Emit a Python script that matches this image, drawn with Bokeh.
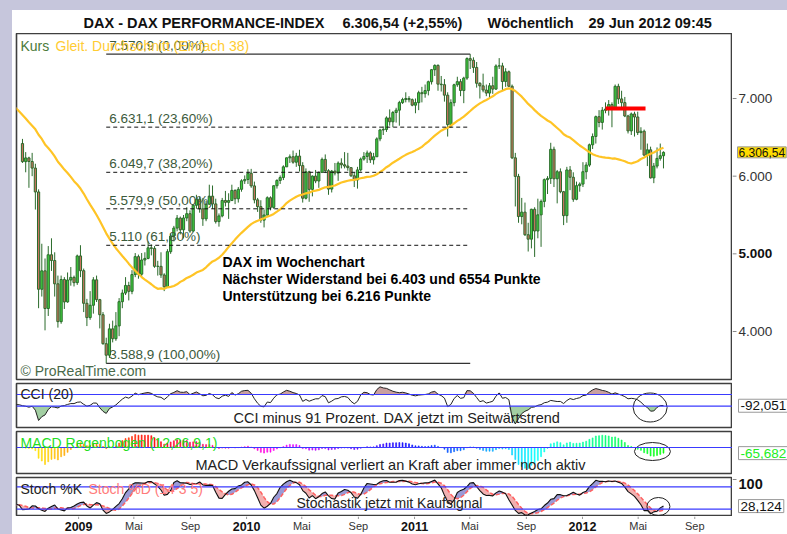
import math
import colorsys
import numpy as np
import pandas as pd
from bokeh.plotting import figure
from bokeh.models import Range1d, Label, Span, Spacer, ColumnDataSource
from bokeh.core.properties import value
from bokeh.layouts import column, row
from bokeh.embed import file_html
from bokeh.resources import INLINE

FONT = "Liberation Sans"

# ---------------- data (weekly DAX, weeks starting Monday) ----------------
start_week = "2007-11-19"
pre_close = [7560, 7870, 7990, 7850, 7930, 8020, 7810, 7600, 7200, 6820, 6980, 6730, 6830, 6810,
             6750, 6510, 6370, 6350, 6580, 6720, 6600, 6770, 6810, 6990, 6950, 7090, 7040, 7090,
             6850, 6820, 6620, 6410, 6260, 6280, 6420, 6360, 6480, 6550, 6580, 6360, 6420]
pre_high = [7700, 7900, 8010, 8030, 7960, 8040, 8070, 7800, 7600, 7200, 7050, 7000, 6900, 6900,
            6960, 6780, 6600, 6480, 6630, 6770, 6750, 6800, 6850, 7010, 7050, 7110, 7230, 7120,
            7120, 6910, 6880, 6650, 6420, 6400, 6450, 6550, 6500, 6600, 6660, 6560, 6460]
pre_low = [7470, 7540, 7800, 7800, 7700, 7920, 7780, 7520, 7100, 6380, 6700, 6650, 6700, 6700,
           6700, 6430, 6250, 6170, 6370, 6480, 6530, 6510, 6700, 6750, 6880, 6900, 6990, 6940,
           6800, 6650, 6600, 6380, 6150, 6130, 6130, 6340, 6320, 6380, 6480, 6290, 6250]

close_2008 = [6187, 6235, 6189, 6104, 5797, 4544, 4781, 4296, 4988, 4914, 4614, 4127, 4669, 4381,
              4663, 4697, 4629, 4973]
high_2008 = [6480, 6310, 6250, 6300, 6160, 5830, 5130, 4940, 5100, 5200, 5020, 4720, 4720, 4700,
             4760, 4830, 4720, 4990]
low_2008 = [6170, 6050, 5850, 6000, 5570, 4300, 4450, 4015, 4200, 4780, 4450, 4050, 4100, 4290,
            4370, 4590, 4580, 4600]

close_2009 = [4783, 4363, 4179, 4338, 4665, 4410, 4216, 3843, 3695, 4034, 3907, 4072, 4384, 4495,
              4593, 4517, 4733, 4964, 4738, 4921, 4941, 5077, 5070, 4839, 4839, 4728, 4576, 5028,
              5229, 5332, 5460, 5309, 5462, 5517, 5293, 5625, 5703, 5580, 5450, 5640, 5743, 5643,
              5415, 5488, 5687, 5663, 5686, 5817, 5709, 5831, 5940, 5957]
high_2009 = [5111, 4810, 4420, 4520, 4700, 4720, 4420, 4250, 3920, 4100, 4140, 4250, 4430, 4540,
             4700, 4640, 4790, 5010, 4990, 5010, 5020, 5160, 5120, 5100, 4910, 5020, 4750, 5060,
             5260, 5360, 5500, 5480, 5500, 5600, 5560, 5640, 5760, 5740, 5720, 5680, 5890, 5880,
             5710, 5520, 5720, 5810, 5780, 5890, 5830, 5860, 5960, 6010]
low_2009 = [4700, 4250, 4070, 4150, 4230, 4380, 4040, 3830, 3588.9, 3660, 3860, 3880, 3940, 4300,
            4470, 4400, 4480, 4700, 4680, 4700, 4850, 4930, 4980, 4820, 4720, 4690, 4520, 4560,
            5000, 5160, 5290, 5250, 5200, 5420, 5270, 5280, 5580, 5530, 5360, 5420, 5630, 5580,
            5390, 5350, 5470, 5610, 5450, 5680, 5640, 5660, 5800, 5900]

close_2010 = [6037, 5875, 5695, 5608, 5434, 5500, 5722, 5598, 5877, 5945, 5982, 6120, 6236, 6250,
              6180, 6259, 6136, 5716, 6056, 5830, 6001, 5938, 6049, 6216, 6070, 5834, 6065, 6040,
              6168, 6147, 6130, 6110, 6005, 5951, 6081, 6220, 6254, 6299, 6211, 6250, 6480, 6595,
              6601, 6750, 6700, 6820, 6850, 6947, 6987, 7000, 6985, 6914]
high_2010 = [6090, 6094, 5930, 5720, 5690, 5570, 5740, 5740, 5880, 5960, 6010, 6140, 6240, 6280,
             6330, 6300, 6340, 6180, 6100, 6070, 6010, 6080, 6060, 6240, 6280, 6090, 6080, 6170,
             6190, 6230, 6310, 6300, 6110, 6050, 6120, 6240, 6310, 6330, 6320, 6300, 6500, 6610,
             6640, 6770, 6860, 6840, 6880, 6970, 7010, 7080, 7030, 7000]
low_2010 = [5900, 5850, 5650, 5540, 5400, 5340, 5480, 5560, 5580, 5840, 5900, 5950, 6120, 6170,
            6160, 6120, 6060, 5660, 5700, 5670, 5740, 5910, 5850, 6040, 6040, 5760, 5790, 6010,
            5940, 6100, 6100, 6070, 5990, 5860, 5840, 6060, 6200, 6170, 6170, 6150, 6250, 6450,
            6530, 6570, 6650, 6630, 6690, 6650, 6930, 6950, 6950, 6900]

close_2011 = [6947, 7075, 7062, 7102, 7216, 7371, 7426, 7185, 7178, 7043, 6664, 6946, 7177, 7217,
              7103, 7263, 7514, 7492, 7400, 7196, 7163, 7109, 7070, 7164, 7121, 7419, 7420, 7219,
              7344, 7158, 6236, 5997, 5480, 5537, 5246, 5189, 5574, 5294, 5502, 5675, 5955, 5971,
              6346, 5966, 6057, 5800, 5492, 6080, 5986, 5702, 5878, 5898]
high_2011 = [7000, 7100, 7150, 7180, 7230, 7380, 7440, 7440, 7290, 7250, 7080, 6990, 7190, 7280,
             7250, 7280, 7530, 7570.9, 7530, 7470, 7210, 7320, 7180, 7200, 7280, 7440, 7520, 7460,
             7390, 7360, 7180, 6300, 6030, 5720, 5660, 5400, 5580, 5600, 5710, 5700, 5970, 6000,
             6430, 6380, 6080, 6100, 5810, 6120, 6130, 6050, 5930, 5920]
low_2011 = [6810, 6850, 6950, 7010, 7040, 7180, 7290, 7100, 7090, 6960, 6510, 6620, 6900, 7150,
            7030, 6940, 7240, 7380, 7330, 7140, 7000, 7080, 7030, 7000, 7060, 7110, 7380, 7100,
            7150, 7150, 6220, 5610, 5400, 5380, 5230, 5030, 5070, 4960, 5200, 5090, 5600, 5770,
            5900, 5860, 5650, 5780, 5370, 5400, 5820, 5670, 5690, 5800]

close_2012 = [6057, 6143, 6404, 6511, 6766, 6692, 6848, 6864, 6922, 6880, 7157, 6995, 6947, 6775,
              6583, 6801, 6762, 6561, 6579, 6271, 6339, 5978, 6130, 6229, 6263, 6306.54]
high_2012 = [6180, 6180, 6420, 6550, 6780, 6850, 6890, 6950, 6980, 6950, 7180, 7190, 7100, 7020,
             6790, 6820, 6830, 6830, 6630, 6600, 6420, 6380, 6170, 6370, 6420, 6320]
low_2012 = [5860, 5960, 6120, 6350, 6420, 6630, 6600, 6810, 6780, 6630, 6870, 6930, 6880, 6760,
            6550, 6530, 6510, 6530, 6340, 6260, 6130, 5970, 5910, 6100, 6200, 6100]

fib_ratios = [0.0, 0.236, 0.382, 0.5, 0.618, 1.0]
resistance_level = 6870
resistance_from, resistance_to = "2012-02-20", "2012-05-17"
price_ticks = [4000, 5000, 6000, 7000]
price_tick_labels = ["4.000", "5.000", "6.000", "7.000"]
price_last, cci_last, macd_last, stoch_last = 6306.54, -92.051, -65.682, 28.124
time_ticks = ["2009-01-01", "2009-05-01", "2009-09-01", "2010-01-01", "2010-05-01", "2010-09-01",
              "2011-01-01", "2011-05-01", "2011-09-01", "2012-01-01", "2012-05-01", "2012-09-01"]
time_labels = ["2009", "Mai", "Sep", "2010", "Mai", "Sep", "2011", "Mai", "Sep", "2012", "Mai", "Sep"]

# ---------------- series ----------------
closes = pre_close + close_2008 + close_2009 + close_2010 + close_2011 + close_2012
highs = pre_high + high_2008 + high_2009 + high_2010 + high_2011 + high_2012
lows = pre_low + low_2008 + low_2009 + low_2010 + low_2011 + low_2012
n_pre = len(pre_close)
dates = pd.date_range(start_week, periods=len(closes), freq="7D")
c = np.array(closes, float)
h = np.array(highs, float)
l = np.array(lows, float)
o = np.concatenate([[c[0]], c[:-1]])
h = np.maximum(h, np.maximum(o, c))
l = np.minimum(l, np.minimum(o, c))

cs = pd.Series(c)
ma38 = cs.rolling(38).mean().values
tp = pd.Series((h + l + c) / 3)
tp_ma = tp.rolling(20).mean()
tp_md = tp.rolling(20).apply(lambda x: np.mean(np.abs(x - x.mean())), raw=True)
cci = ((tp - tp_ma) / (0.015 * tp_md)).values
macd = cs.ewm(span=12, adjust=False).mean() - cs.ewm(span=26, adjust=False).mean()
hist = (macd - macd.ewm(span=9, adjust=False).mean()).values
ll = pd.Series(l).rolling(14).min()
hh = pd.Series(h).rolling(14).max()
fast_k = 100 * (cs - ll) / (hh - ll)
stoch_k = fast_k.rolling(3).mean()
stoch_d = stoch_k.rolling(5).mean().values
stoch_k = stoch_k.values

vis = slice(n_pre, None)
ext = slice(n_pre - 3, None)
WEEK = 7 * 24 * 3600 * 1000


def ms(d):
    return pd.Timestamp(d).value / 1e6


def de(v, dec):
    s = f"{v:,.{dec}f}"
    return s.replace(",", "X").replace(".", ",").replace("X", ".")


# ---------------- layout helpers (page pixels) ----------------
LAV = "#c6c6dc"
FL = 16           # frame left (page x)
MAIN_W = 720      # 4 px border + 716 px frame
SIDE_W = 55
x_range = Range1d(pd.Timestamp("2008-08-19"), pd.Timestamp("2012-11-22"))
F = value(FONT)


def mkfig(height, top, bottom, yr):
    p = figure(width=MAIN_W, height=height, x_range=x_range, y_range=yr, output_backend="svg",
               toolbar_location=None, x_axis_type=None, y_axis_type=None,
               min_border_left=4, min_border_right=0, min_border_top=top, min_border_bottom=bottom)
    p.outline_line_color = "#3f3f3f"
    p.outline_line_width = 1.6
    p.background_fill_color = "white"
    p.border_fill_color = "white"
    return p


def side(height, top, bottom, yr):
    q = figure(width=SIDE_W, height=height, x_range=Range1d(0, SIDE_W), y_range=yr,
               output_backend="svg", toolbar_location=None, x_axis_type=None, y_axis_type=None,
               min_border_left=0, min_border_right=0, min_border_top=top, min_border_bottom=bottom)
    q.outline_line_color = None
    q.background_fill_color = "white"
    q.border_fill_color = "white"
    return q


def txt(p, fb, px, py, text, size="14px", color="#222222", style="normal"):
    p.add_layout(Label(x=px - FL, y=fb - py, x_units="screen", y_units="screen", text=text,
                       text_font=FONT, text_font_size=size, text_color=color,
                       text_font_style=style, text_align="left", text_baseline="middle"))


def valbox(q, y, text, color="#111111", bg="white", size="13.5px"):
    q.add_layout(Label(x=6, y=y, text=text, text_font=FONT, text_font_size=size,
                       text_color=color, text_baseline="middle", background_fill_color=bg,
                       border_line_color="#9a9a9a", border_line_width=1, padding=2))


def ticks(q, values, color="#888888"):
    q.segment(x0=[0] * len(values), y0=values, x1=[4] * len(values), y1=values,
              line_color=color, line_width=1)


# ---------------- header ----------------
hdr = figure(width=775, height=23, x_range=Range1d(0, 775), y_range=Range1d(0, 23),
             output_backend="svg", toolbar_location=None, x_axis_type=None, y_axis_type=None,
             min_border_left=0, min_border_right=0, min_border_top=0, min_border_bottom=0)
hdr.outline_line_color = None
hdr.text(x=[83 - 12, 342 - 12, 487 - 12, 588 - 12], y=[11] * 4,
         text=["DAX - DAX PERFORMANCE-INDEX", "6.306,54 (+2,55%)", "Wöchentlich", "29 Jun 2012 09:45"],
         text_font=F, text_font_size="14.5px", text_font_style="bold", text_color="#111111",
         text_baseline="middle")

# ---------------- main price panel ----------------
y_price = Range1d(3382, 7837)
p1 = mkfig(348, 0, 2, y_price)
FB1 = 379
UP, DN, EDGE = "#3fcf3f", "#c8735f", "#2b6b2b"
src = ColumnDataSource(dict(
    x=dates[vis], top=np.maximum(o, c)[vis], bottom=np.minimum(o, c)[vis], hi=h[vis], lo=l[vis],
    fill=[UP if cc >= oo else DN for cc, oo in zip(c[vis], o[vis])]))
p1.segment("x", "hi", "x", "lo", source=src, line_color=EDGE, line_width=1)
p1.vbar(x="x", width=0.68 * WEEK, top="top", bottom="bottom", fill_color="fill",
        line_color=EDGE, line_width=1, source=src)
p1.line(dates[ext], ma38[ext], line_color="#ffc425", line_width=2.2)

lv_vis, hv_vis = l[vis], h[vis]
i_lo, i_hi = int(np.argmin(lv_vis)), int(np.argmax(hv_vis))
lo_val, hi_val = lv_vis[i_lo], hv_vis[i_hi]
x_lo, x_hi = ms(dates[vis][i_lo]), ms(dates[vis][i_hi])
for r in fib_ratios:
    lv = hi_val - r * (hi_val - lo_val)
    solid = r in (0.0, 1.0)
    p1.segment(x0=[x_lo], y0=[lv], x1=[x_hi], y1=[lv], line_color="#333333" if solid else "#111111",
               line_width=1.2 if solid else 1, line_dash="solid" if solid else "4 3")
    t = math.floor(lv * 10 + 1e-6) / 10
    s = de(t, 1)
    if s.endswith(",0"):
        s = s[:-2]
    p1.add_layout(Label(x=x_lo, y=lv, x_offset=3, y_offset=1, text=f"{s} ({de(r * 100, 2)}%)",
                        text_font=FONT, text_font_size="13.5px", text_color="#3b5a3b",
                        text_baseline="bottom"))
p1.segment(x0=[ms(resistance_from)], y0=[resistance_level], x1=[ms(resistance_to)],
           y1=[resistance_level], line_color="#ff0000", line_width=4)

txt(p1, FB1, 20, 45, "Kurs", color="#4a7a3a")
txt(p1, FB1, 55, 45, "Gleit. Durchschnitt (Einfach 38)", color="#ffcc33")
txt(p1, FB1, 20, 370, "© ProRealTime.com", color="#4a6a4a")
txt(p1, FB1, 222, 261, "DAX im Wochenchart", color="#000000", style="bold")
txt(p1, FB1, 222, 278, "Nächster Widerstand bei 6.403 und 6554 Punkte", color="#000000", style="bold")
txt(p1, FB1, 222, 295, "Unterstützung bei 6.216 Punkte", color="#000000", style="bold")

s1 = side(348, 0, 2, y_price)
ticks(s1, price_ticks)
normal_idx = [i for i, v in enumerate(price_ticks) if v != 5000]
s1.text(x=[6] * len(normal_idx), y=[price_ticks[i] for i in normal_idx],
        text=[price_tick_labels[i] for i in normal_idx], text_font=F, text_font_size="13.5px",
        text_color="#333333", text_baseline="middle")
s1.text(x=[6], y=[5000], text=[price_tick_labels[price_ticks.index(5000)]], text_font=F,
        text_font_size="13.5px", text_font_style="bold", text_color="#111111",
        text_baseline="middle")
s1.add_layout(Label(x=5, y=price_last, text=de(price_last, 2), text_font=FONT,
                    text_font_size="12px", text_color="#111111", text_baseline="middle",
                    background_fill_color="#ffdc00", border_line_color="#9a9a9a",
                    border_line_width=1, padding=1))

# ---------------- CCI panel ----------------
y_cci = Range1d(-464, 288)
p2 = mkfig(48, 2, 2, y_cci)
FB2 = 427
xe = dates[ext]
p2.varea(x=xe, y1=np.full(len(xe), -100.0), y2=np.minimum(cci[ext], -100), fill_color="#a3cfa3")
p2.varea(x=xe, y1=np.full(len(xe), 100.0), y2=np.maximum(cci[ext], 100), fill_color="#c9a0a0")
for lvl in (100, -100):
    p2.add_layout(Span(location=lvl, dimension="width", line_color="#3a3aff", line_width=1.2))
p2.line(xe, cci[ext], line_color="#222222", line_width=1)
p2.ellipse(x=[ms("2012-05-27")], y=[-122], width=34, height=29, width_units="screen",
           height_units="screen", fill_color=None, line_color="#222222", line_width=1)
txt(p2, FB2, 20, 393, "CCI (20)")
txt(p2, FB2, 233, 417, "CCI minus 91 Prozent. DAX jetzt im Seitwärtstrend", size="14.5px")
s2 = side(48, 2, 2, y_cci)
valbox(s2, cci_last, de(cci_last, 3))

# ---------------- MACD panel ----------------
k = -np.nanmin(hist[vis]) / 21.0
y_macd = Range1d(-26 * k, 16 * k)
p3 = mkfig(46, 2, 2, y_macd)
FB3 = 473
n_vis = len(c[vis])
rainbow = []
for i in range(n_vis):
    hue = ((60 - 300 * i / (n_vis - 1)) % 360) / 360
    r_, g_, b_ = colorsys.hsv_to_rgb(hue, 0.95, 1.0)
    rainbow.append("#%02x%02x%02x" % (int(r_ * 255), int(g_ * 255), int(b_ * 255)))
p3.vbar(x=dates[vis], top=hist[vis], bottom=0, width=0.3 * WEEK, fill_color=rainbow,
        line_color=rainbow, line_width=0.6)
p3.add_layout(Span(location=0, dimension="width", line_color="#3a3aff", line_width=1.2))
p3.ellipse(x=[ms("2012-06-01")], y=[-4 * k], width=36, height=18, width_units="screen",
           height_units="screen", fill_color=None, line_color="#222222", line_width=1)
txt(p3, FB3, 20, 442, "MACD Regenbogen (12,26,9,1)", color="#22dd22")
txt(p3, FB3, 195, 464, "MACD Verkaufssignal verliert an Kraft aber immer noch aktiv", size="14.5px")
s3 = side(46, 2, 2, y_macd)
valbox(s3, macd_last, de(macd_last, 3), color="#22ee22")

# ---------------- Stochastic panel ----------------
y_sto = Range1d(0, 105.4)
p4 = mkfig(41, 2, 0, y_sto)
FB4 = 516
ke, dd = stoch_k[ext], stoch_d[ext]
p4.varea(x=xe, y1=dd, y2=np.maximum(ke, dd), fill_color="#9a9ad6")
p4.varea(x=xe, y1=dd, y2=np.minimum(ke, dd), fill_color="#f2b0b0")
for lvl in (80, 20):
    p4.add_layout(Span(location=lvl, dimension="width", line_color="#3a3aff", line_width=1.2))
p4.line(xe, dd, line_color="#ff6060", line_width=1.5, line_dash="4 2")
p4.line(xe, ke, line_color="#111111", line_width=1.1)
p4.ellipse(x=[ms("2012-06-14")], y=[27], width=23, height=18, width_units="screen",
           height_units="screen", fill_color=None, line_color="#222222", line_width=1)
txt(p4, FB4, 20, 488, "Stoch %K")
txt(p4, FB4, 88, 488, "Stoch %D (14 3 5)", color="#ff7b7b")
txt(p4, FB4, 296, 502, "Stochastik jetzt mit Kaufsignal")
s4 = side(41, 2, 0, y_sto)
ticks(s4, [0, 100])
s4.text(x=[6], y=[100], text=["100"], text_font=F, text_font_size="14.5px",
        text_font_style="bold", text_color="#111111", text_baseline="top")
valbox(s4, stoch_last, de(stoch_last, 3))

# ---------------- time axis strip ----------------
tx = figure(width=MAIN_W, height=18, x_range=x_range, y_range=Range1d(0, 18), output_backend="svg",
            toolbar_location=None, x_axis_type=None, y_axis_type=None,
            min_border_left=4, min_border_right=0, min_border_top=0, min_border_bottom=0)
tx.outline_line_color = None
tick_ms = [ms(d) for d in time_ticks]
tx.segment(x0=tick_ms, y0=[18] * len(tick_ms), x1=tick_ms, y1=[15.5] * len(tick_ms),
           line_color="#999999", line_width=1)
yr_i = [i for i, t in enumerate(time_labels) if t.isdigit()]
mo_i = [i for i, t in enumerate(time_labels) if not t.isdigit()]
tx.text(x=[tick_ms[i] for i in yr_i], y=[8.5] * len(yr_i), text=[time_labels[i] for i in yr_i],
        text_font=F, text_font_size="12.5px", text_font_style="bold", text_color="#111111",
        text_align="center", text_baseline="middle")
tx.text(x=[tick_ms[i] for i in mo_i], y=[8.5] * len(mo_i), text=[time_labels[i] for i in mo_i],
        text_font=F, text_font_size="11px", text_color="#333333",
        text_align="center", text_baseline="middle")
tx_side = Spacer(width=SIDE_W, height=18)

left_strip = Spacer(width=12, height=534, styles={"background-color": LAV})
top_strip = Spacer(width=775, height=10, styles={"background-color": LAV})
layout = row(left_strip, column(top_strip, hdr, row(p1, s1), row(p2, s2), row(p3, s3),
                                row(p4, s4), row(tx, tx_side)))

with open("out.html", "w", encoding="utf-8") as f:
    f.write(file_html(layout, INLINE))
